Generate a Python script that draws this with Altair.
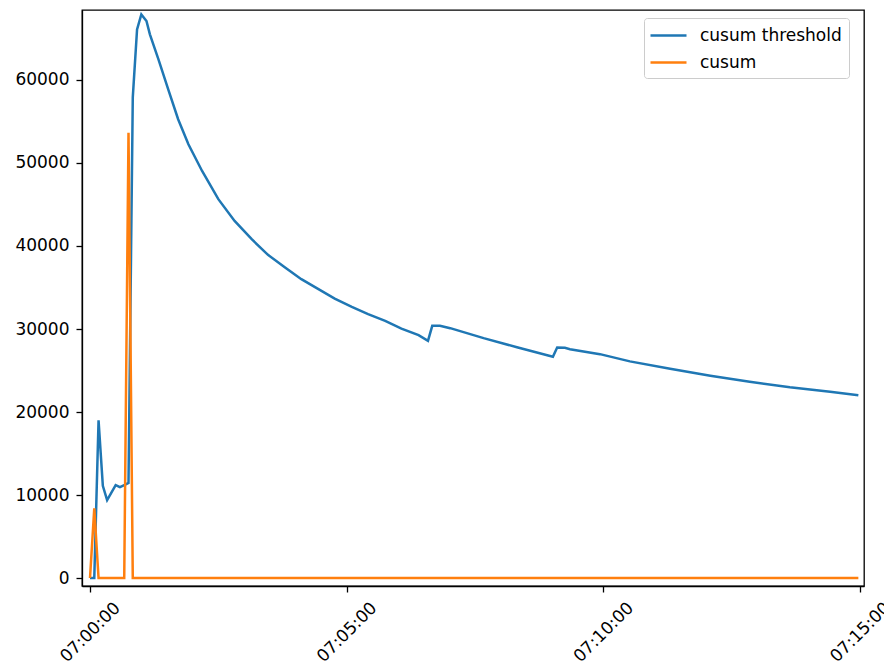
import altair as alt
import pandas as pd

# cusum threshold (blue) — seconds after 07:00:00
thr_t = [0, 5, 10, 15, 20, 25, 30, 35, 40, 45, 50, 55, 60, 66, 70, 80, 92, 103,
         115, 131, 150, 169, 189, 208, 228, 247, 267, 286, 306, 325, 345, 364,
         384, 395, 400, 409, 421, 460, 499, 541, 546, 555, 561, 596, 631, 678,
         725, 771, 818, 865, 898]
thr_v = [0, 0, 19000, 11100, 9400, 10300, 11200, 10950, 11200, 11450, 57900,
         66100, 67900, 67100, 65500, 62490, 58680, 55270, 52260, 49040, 45640,
         43020, 40820, 38930, 37400, 36000, 34800, 33670, 32670, 31790, 30980,
         30050, 29260, 28570, 30380, 30380, 30100, 28900, 27800, 26650, 27770,
         27730, 27570, 26970, 26100, 25200, 24360, 23640, 22970, 22430, 22010]

# cusum (orange)
cus_t = [0, 5, 10, 40, 45, 50, 898]
cus_v = [0, 8400, 0, 0, 53650, 0, 0]

series_names = ["cusum threshold", "cusum"]
series_colors = ["#1f77b4", "#ff7f0e"]

tick_secs = [0, 300, 600, 900]
y_ticks = [0, 10000, 20000, 30000, 40000, 50000, 60000]

df_thr = pd.DataFrame({"t": thr_t, "v": thr_v, "series": series_names[0]})
df_cus = pd.DataFrame({"t": cus_t, "v": cus_v, "series": series_names[1]})

FONT = "DejaVu Sans"
FS = 17

xscale = alt.Scale(domain=[-9.35, 904.6], nice=False, zero=False)
yscale = alt.Scale(domain=[-960, 68430], nice=False, zero=False)
cscale = alt.Scale(domain=series_names, range=series_colors)

x_enc = alt.X("t:Q", scale=xscale,
              axis=alt.Axis(values=tick_secs, title=None, grid=False,
                            labelExpr="utcFormat(datum.value * 1000 + 25200000, '%H:%M:%S')",
                            labelAngle=-45, labelAlign="center", labelBaseline="middle",
                            labelPadding=40, tickSize=6, tickWidth=1.3, labelFontSize=FS,
                            labelFont=FONT, labelColor="black", tickColor="black",
                            domainColor="black", domainWidth=1.3,
                            labelOverlap=False, labelFlush=False))
y_enc = alt.Y("v:Q", scale=yscale,
              axis=alt.Axis(values=y_ticks, title=None, grid=False, format="d",
                            tickSize=6, tickWidth=1.3, labelPadding=7, labelFontSize=FS,
                            labelFont=FONT, labelColor="black", tickColor="black",
                            domainColor="black", domainWidth=1.3))

legend = alt.Legend(title=None, orient="none", legendX=562, legendY=8,
                    symbolType="M-2,0H2", symbolSize=324, symbolStrokeWidth=2.5,
                    symbolOffset=7,
                    labelFontSize=FS, labelFont=FONT, labelColor="black",
                    fillColor="white", strokeColor="#cccccc", cornerRadius=3,
                    padding=7, rowPadding=8, labelOffset=21)

c_enc = alt.Color("series:N", scale=cscale, legend=legend)

thr = alt.Chart(df_thr).mark_line(strokeWidth=2.5).encode(x=x_enc, y=y_enc, color=c_enc)
cus = alt.Chart(df_cus).mark_line(strokeWidth=2.5).encode(x=x_enc, y=y_enc, color=c_enc)

chart = alt.layer(thr, cus).properties(
    width=782, height=576,
    autosize=alt.AutoSizeParams(type="none"),
    padding={"left": 74, "top": 2, "right": 20, "bottom": 76},
    background="white",
).configure_view(stroke="black", strokeWidth=1.3)

chart.save("out.html", embed_options={"renderer": "svg", "actions": False})
